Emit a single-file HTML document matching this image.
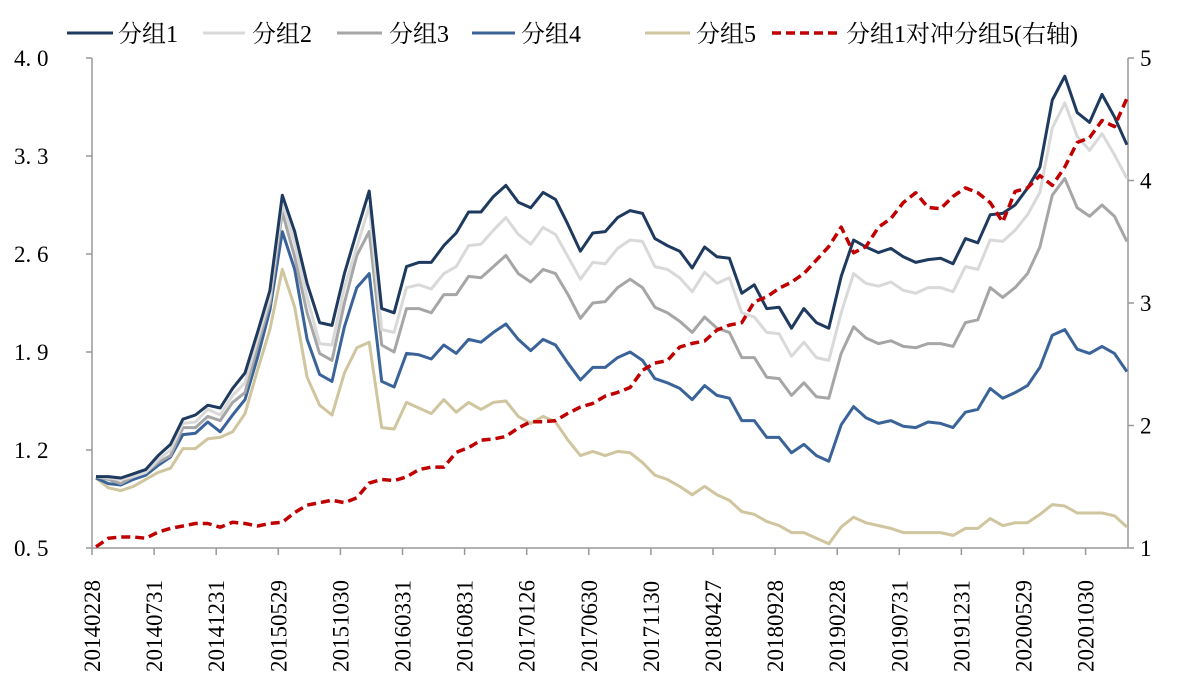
<!DOCTYPE html>
<html><head><meta charset="utf-8"><style>
body{margin:0;background:#fff;}
svg{display:block;font-family:"Liberation Serif","Noto Serif CJK SC",serif;}
</style></head><body>
<svg id="chart" width="1179" height="690" viewBox="0 0 1179 690" xmlns="http://www.w3.org/2000/svg">
<g id="legend" font-size="24" fill="#000">
 <g><line x1="67" y1="33" x2="113" y2="33" stroke="#1f3a5f" stroke-width="3"/><text x="118" y="42">分组1</text></g>
 <g><line x1="203" y1="33" x2="245" y2="33" stroke="#d9d9d9" stroke-width="3"/><text x="252" y="42">分组2</text></g>
 <g><line x1="337" y1="33" x2="382" y2="33" stroke="#a6a6a6" stroke-width="3"/><text x="389" y="42">分组3</text></g>
 <g><line x1="472" y1="33" x2="515" y2="33" stroke="#3a6499" stroke-width="3"/><text x="521" y="42">分组4</text></g>
 <g><line x1="645" y1="33" x2="690" y2="33" stroke="#cfc59e" stroke-width="3"/><text x="696" y="42">分组5</text></g>
 <g><line x1="772" y1="33" x2="842" y2="33" stroke="#c00000" stroke-width="3.5" stroke-dasharray="9,5"/><text x="846" y="42">分组1对冲分组5(右轴)</text></g>
</g>
<g id="axes"></g>
<g id="series"></g>
</svg>
<script>
const dates=["20140228","20140731","20141231","20150529","20151030","20160331","20160831","20170126","20170630","20171130","20180427","20180928","20190228","20190731","20191231","20200529","20201030"];
const leftTicks=[0.5,1.2,1.9,2.6,3.3,4.0];
const rightTicks=[1,2,3,4,5];
const g1=[1.01,1.01,1.00,1.03,1.06,1.16,1.24,1.42,1.45,1.52,1.50,1.64,1.75,2.04,2.34,3.02,2.76,2.39,2.11,2.09,2.46,2.76,3.05,2.21,2.18,
2.51,2.54,2.54,2.66,2.75,2.90,2.90,3.01,3.09,2.97,2.93,3.04,2.99,2.81,2.62,2.75,2.76,2.86,2.91,2.89,2.71,2.66,2.62,2.50,2.65,2.58,2.57,2.32,2.38,
2.21,2.22,2.07,2.21,2.11,2.07,2.44,2.70,2.65,2.61,2.64,2.58,2.54,2.56,2.57,2.53,2.71,2.68,2.88,2.89,2.95,3.07,3.22,3.70,3.87,3.61,3.54,3.74,3.58,3.38];
const g2=[1.01,1.00,0.99,1.01,1.04,1.13,1.20,1.39,1.40,1.49,1.45,1.59,1.68,1.99,2.29,2.96,2.68,2.29,1.96,1.95,2.36,2.65,2.94,2.06,2.04,
2.36,2.38,2.35,2.46,2.51,2.66,2.67,2.77,2.86,2.74,2.67,2.79,2.74,2.58,2.42,2.54,2.53,2.64,2.70,2.69,2.51,2.49,2.43,2.33,2.47,2.39,2.43,2.18,2.15,
2.04,2.03,1.87,1.97,1.86,1.84,2.18,2.46,2.39,2.37,2.40,2.34,2.32,2.36,2.36,2.33,2.51,2.49,2.70,2.69,2.77,2.88,3.04,3.50,3.68,3.44,3.34,3.46,3.31,3.14];
const g3=[1.01,0.99,0.96,1.01,1.04,1.11,1.16,1.36,1.36,1.44,1.41,1.54,1.61,1.94,2.25,2.90,2.58,2.18,1.89,1.84,2.25,2.59,2.76,1.95,1.90,
2.21,2.21,2.18,2.31,2.31,2.44,2.43,2.51,2.59,2.46,2.40,2.49,2.46,2.31,2.14,2.25,2.26,2.36,2.42,2.36,2.22,2.18,2.12,2.04,2.15,2.07,2.04,1.86,1.86,
1.72,1.71,1.59,1.68,1.58,1.57,1.89,2.08,2.00,1.96,1.98,1.94,1.93,1.96,1.96,1.94,2.11,2.13,2.36,2.29,2.36,2.46,2.65,3.02,3.14,2.93,2.87,2.95,2.87,2.69];
const g4=[1.00,0.96,0.95,0.99,1.02,1.09,1.15,1.31,1.32,1.40,1.33,1.45,1.56,1.86,2.20,2.76,2.49,1.99,1.74,1.69,2.08,2.36,2.46,1.69,1.65,
1.89,1.88,1.85,1.95,1.89,1.99,1.97,2.04,2.10,1.99,1.91,1.99,1.95,1.82,1.70,1.79,1.79,1.86,1.90,1.84,1.71,1.68,1.64,1.56,1.66,1.59,1.57,1.41,1.41,
1.29,1.29,1.18,1.24,1.16,1.12,1.38,1.51,1.43,1.39,1.41,1.37,1.36,1.40,1.39,1.36,1.47,1.49,1.64,1.57,1.61,1.66,1.79,2.02,2.06,1.92,1.89,1.94,1.89,1.76];
const g5=[1.00,0.93,0.91,0.94,0.99,1.04,1.07,1.21,1.21,1.28,1.29,1.33,1.46,1.77,2.06,2.49,2.22,1.72,1.52,1.45,1.75,1.93,1.97,1.36,1.35,
1.54,1.50,1.46,1.56,1.47,1.54,1.49,1.54,1.55,1.44,1.39,1.44,1.40,1.27,1.16,1.19,1.16,1.19,1.18,1.11,1.02,0.99,0.94,0.88,0.94,0.88,0.84,0.76,0.74,
0.69,0.66,0.61,0.61,0.57,0.53,0.65,0.72,0.68,0.66,0.64,0.61,0.61,0.61,0.61,0.59,0.64,0.64,0.71,0.66,0.68,0.68,0.74,0.81,0.80,0.75,0.75,0.75,0.73,0.65];
const hedge=[1.01,1.08,1.09,1.09,1.08,1.13,1.16,1.18,1.20,1.20,1.17,1.21,1.20,1.18,1.20,1.21,1.29,1.35,1.37,1.39,1.37,1.41,1.53,1.56,1.55,
1.58,1.64,1.66,1.66,1.78,1.82,1.88,1.89,1.91,1.98,2.03,2.03,2.04,2.10,2.15,2.18,2.24,2.27,2.31,2.45,2.51,2.53,2.64,2.67,2.69,2.78,2.82,2.84,3.01,
3.05,3.12,3.17,3.24,3.35,3.46,3.62,3.41,3.46,3.62,3.69,3.82,3.90,3.78,3.77,3.87,3.94,3.90,3.82,3.66,3.91,3.94,4.04,3.96,4.11,4.31,4.35,4.49,4.44,4.67];

const NS="http://www.w3.org/2000/svg";
const X0=96, DX=12.42, YT=58, YB=548, AXL=92, AXR=1128;
const xs=i=>X0+i*DX;
const yl=v=>YB-(v-0.5)/(4.0-0.5)*(YB-YT);
const yr=v=>YB-(v-1)/(5-1)*(YB-YT);
function mk(tag,attrs,parent){const e=document.createElementNS(NS,tag);for(const k in attrs)e.setAttribute(k,attrs[k]);parent.appendChild(e);return e;}
const axes=document.getElementById('axes');
const ser=document.getElementById('series');

let a=mk('line',{x1:AXL,y1:YT,x2:AXL,y2:YB,stroke:'#999','stroke-width':1.5},axes);


a=mk('line',{x1:AXR,y1:YT,x2:AXR,y2:YB,stroke:'#999','stroke-width':1.5},axes);


a=mk('line',{x1:AXL,y1:YB,x2:AXR,y2:YB,stroke:'#999','stroke-width':1.5},axes);



leftTicks.forEach(v=>{
 const y=yl(v);
 mk('line',{x1:AXL-6,y1:y,x2:AXL,y2:y,stroke:'#999','stroke-width':1.5},axes);
 const t=mk('text',{x:14,y:y+8,'font-size':23},axes);
 t.textContent=v.toFixed(1).replace('.','. ');
 
 
});
rightTicks.forEach(v=>{
 const y=yr(v);
 mk('line',{x1:AXR,y1:y,x2:AXR+6,y2:y,stroke:'#999','stroke-width':1.5},axes);
 const t=mk('text',{x:1140,y:y+8,'font-size':23},axes);
 t.textContent=String(v);
 
 
});
dates.forEach((d,k)=>{
 const x=xs(k*5)-4;
 mk('line',{x1:x,y1:YB,x2:x,y2:YB+7,stroke:'#999','stroke-width':1.5},axes);
 const t=mk('text',{x:0,y:0,'font-size':23,transform:`translate(${x+8},${672}) rotate(-90)`},axes);
 t.textContent=d;
 
 
});

function drawLine(arr,yf,color,w,dash,name){
 const pts=arr.map((v,i)=>xs(i).toFixed(1)+','+yf(v).toFixed(1)).join(' ');
 const attrs={points:pts,fill:'none',stroke:color,'stroke-width':w,'stroke-linejoin':'round'};
 if(dash)attrs['stroke-dasharray']=dash;
 const p=mk('polyline',attrs,ser);
 
 
}
drawLine(g5,yl,'#cfc59e',3,null,'line-group5');
drawLine(g4,yl,'#3a6499',3,null,'line-group4');
drawLine(g3,yl,'#a6a6a6',3,null,'line-group3');
drawLine(g2,yl,'#d9d9d9',3,null,'line-group2');
drawLine(g1,yl,'#1f3a5f',3,null,'line-group1');
drawLine(hedge,yr,'#c00000',3.5,'9,5','line-hedge-group1-vs-group5');
</script>
</body></html>
